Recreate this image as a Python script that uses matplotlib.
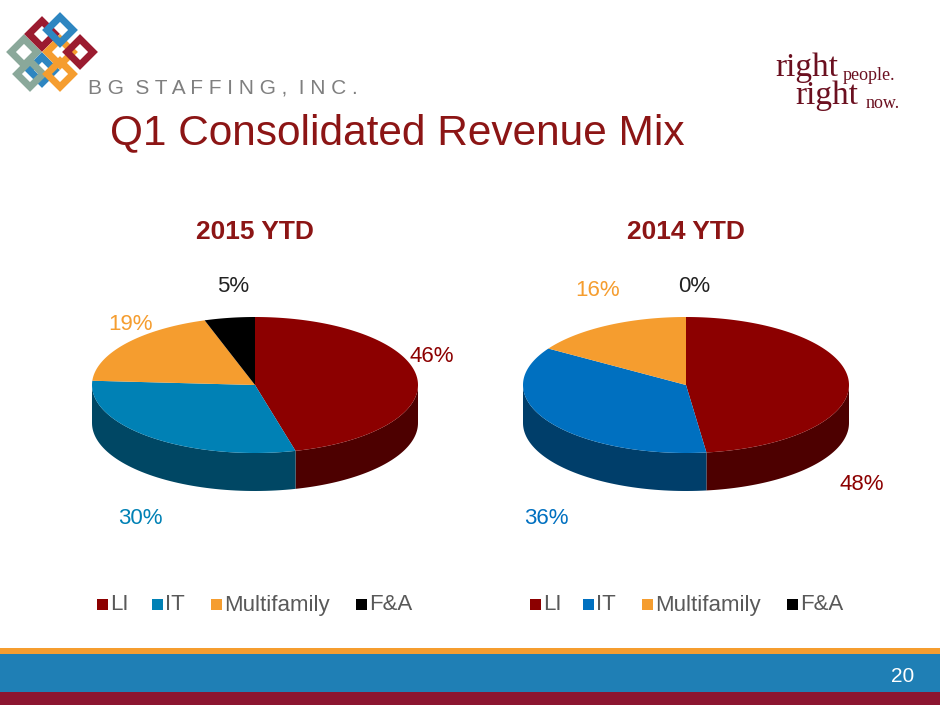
import numpy as np
import matplotlib.pyplot as plt
from matplotlib.patches import Polygon, Rectangle

plt.rcParams['font.family'] = ['Liberation Sans', 'DejaVu Sans']

categories = ["LI", "IT", "Multifamily", "F&A"]
titles = ["2015 YTD", "2014 YTD"]
values_2015 = [46, 30, 19, 5]
values_2014 = [48, 36, 16, 0]
colors_2015 = ["#8c0000", "#0081b5", "#f59d2f", "#000000"]
colors_2014 = ["#8c0000", "#0070c0", "#f59d2f", "#000000"]
label_pos_2015 = [(432, 357), (140, 518), (130, 325), (233, 286)]
label_pos_2014 = [(862, 484), (546, 518), (598, 290), (694, 286)]
legend_x_2015 = [97, 152, 211, 356]
legend_x_2014 = [530, 583, 642, 787]

fig = plt.figure(figsize=(9.4, 7.05), dpi=100)
ax = fig.add_axes([0, 0, 1, 1])
ax.set_xlim(0, 940)
ax.set_ylim(705, 0)
ax.axis("off")


def darker(c, f=0.55):
    r, g, b = plt.matplotlib.colors.to_rgb(c)
    return (r * f, g * f, b * f)


def pie3d(cx, cy, vals, cols, rx=163, ry=68, depth=38):
    total = sum(vals)
    bounds = np.concatenate([[0], np.cumsum(vals)]) / total * 360
    # side rim first (front half: 90..270 deg clockwise from top)
    for a0, a1, c in zip(bounds[:-1], bounds[1:], cols):
        s, e = max(a0, 90), min(a1, 270)
        if e <= s:
            continue
        t = np.radians(np.linspace(s, e, 60))
        x = cx + rx * np.sin(t)
        y = cy - ry * np.cos(t)
        pts = np.column_stack([np.r_[x, x[::-1]], np.r_[y, y[::-1] + depth]])
        ax.add_patch(Polygon(pts, closed=True, fc=darker(c), ec="none"))
    for a0, a1, c in zip(bounds[:-1], bounds[1:], cols):
        if a1 <= a0:
            continue
        t = np.radians(np.linspace(a0, a1, 120))
        x = np.r_[cx, cx + rx * np.sin(t)]
        y = np.r_[cy, cy - ry * np.cos(t)]
        ax.add_patch(Polygon(np.column_stack([x, y]), closed=True, fc=c, ec="none"))


for cx, title, vals, cols, lpos, lx_list in [
    (255, titles[0], values_2015, colors_2015, label_pos_2015, legend_x_2015),
    (686, titles[1], values_2014, colors_2014, label_pos_2014, legend_x_2014),
]:
    ax.text(cx, 232, title, ha="center", va="center", fontsize=19,
            fontweight="bold", color="#8c1515")
    pie3d(cx, 385, vals, cols)
    for v, c, (lx, ly) in zip(vals, cols, lpos):
        ax.text(lx, ly, f"{v}%", ha="center", va="center", fontsize=16,
                color=c if c != "#000000" else "#222222")
    for name, c, x in zip(categories, cols, lx_list):
        ax.add_patch(Rectangle((x, 599), 11, 11, fc=c, ec="none"))
        ax.text(x + 13, 605, name, ha="left", va="center", fontsize=16,
                color="#595959")

# slide title
ax.text(110, 133, "Q1 Consolidated Revenue Mix", ha="left", va="center",
        fontsize=30.5, color="#8c1515")

# header logo
d = 13
for (lx, ly, c) in [(24, 52, "#8aa89a"), (42, 34, "#9b1b30"), (42, 70, "#2e86c1"),
                    (60, 52, "#f59d2f"), (80, 52, "#9b1b30"), (60, 30, "#2e86c1"),
                    (30, 74, "#8aa89a"), (60, 74, "#f59d2f")]:
    ax.add_patch(Polygon([(lx, ly - d), (lx + d, ly), (lx, ly + d), (lx - d, ly)],
                         closed=True, fc="none", ec=c, lw=5))
ax.text(88, 88, "B G  S T A F F I N G ,  I N C .", ha="left", va="center",
        fontsize=15, color="#7f7f7f")
ax.text(775, 68, "right", ha="left", va="center", fontsize=24,
        family="Liberation Serif", color="#6b1020")
ax.text(843, 76, "people.", ha="left", va="center", fontsize=13,
        family="Liberation Serif", color="#6b1020")
ax.text(795, 96, "right", ha="left", va="center", fontsize=24,
        family="Liberation Serif", color="#6b1020")
ax.text(866, 104, "now.", ha="left", va="center", fontsize=13,
        family="Liberation Serif", color="#6b1020")

# footer bands
ax.add_patch(Rectangle((0, 648), 940, 6, fc="#f59d2f", ec="none"))
ax.add_patch(Rectangle((0, 654), 940, 38, fc="#1f7fb5", ec="none"))
ax.add_patch(Rectangle((0, 692), 940, 13, fc="#8c1530", ec="none"))
ax.text(903, 677, "20", ha="center", va="center", fontsize=15, color="white")

fig.savefig("out.png", dpi=100)
